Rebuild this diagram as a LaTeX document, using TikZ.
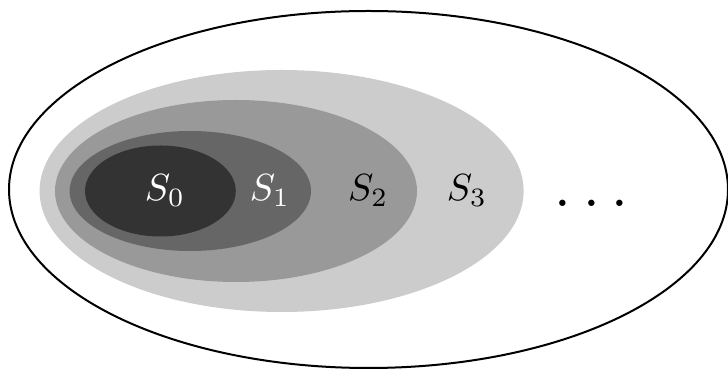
\documentclass[tikz,border=0pt]{standalone}
\usepackage{graphicx}
\begin{document}
\begin{tikzpicture}[x=1pt,y=1pt]
\useasboundingbox (0,0) rectangle (728,371);
\definecolor{setA}{HTML}{333333}
\definecolor{setB}{HTML}{666666}
\definecolor{setC}{HTML}{999999}
\definecolor{setD}{HTML}{CCCCCC}
\tikzset{lab/.style={inner sep=0pt, anchor=base}}
\newcommand{\bigtxt}[1]{\scalebox{3.78}{#1}}
\fill[setD] (281.6,180) ellipse [x radius=242, y radius=121];
\fill[setC] (236,180) ellipse [x radius=181, y radius=91];
\fill[setB] (190.3,180) ellipse [x radius=120.7, y radius=60];
\fill[setA] (160.4,180) ellipse [x radius=75.4, y radius=45.5];
\draw[line width=2pt] (368.5,181.5) ellipse [x radius=359.5, y radius=178.5];
\node[lab, text=white] (s0) at (165,170) {\bigtxt{$S_0$}};
\node[lab, text=white] (s1) at (270,170) {\bigtxt{$S_1$}};
\node[lab] (s2) at (368.3,170) {\bigtxt{$S_2$}};
\node[lab] (s3) at (467,170) {\bigtxt{$S_3$}};
\node[inner sep=0pt] (dots) at (591.5,167.7) {\scalebox{6}{.\hspace{2.02pt}.\hspace{2.02pt}.}};
\end{tikzpicture}
\end{document}
